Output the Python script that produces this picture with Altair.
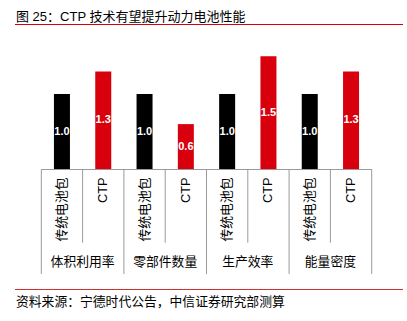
import altair as alt
import pandas as pd

groups = ["体积利用率", "零部件数量", "生产效率", "能量密度"]
series = ["传统电池包", "CTP"]
traditional = [1.0, 1.0, 1.0, 1.0]
ctp = [1.3, 0.6, 1.5, 1.3]
title_text = "图 25：CTP 技术有望提升动力电池性能"
source_text = "资料来源：宁德时代公告，中信证券研究部测算"

rows = []
for g, t, c in zip(groups, traditional, ctp):
    rows.append({"slot": g + "|" + series[0], "group": g, "series": series[0], "value": t, "first": True})
    rows.append({"slot": g + "|" + series[1], "group": g, "series": series[1], "value": c, "first": False})
df = pd.DataFrame(rows)
slots = list(df["slot"])

FONT = "Liberation Sans, Noto Sans CJK SC"
GRID = "#9a9a9a"

xscale = alt.Scale(domain=slots, range=[41.3, 371.7], paddingInner=0, paddingOuter=0)
yscale = alt.Scale(domain=[0, 2.248], range=[169.3, 0], nice=False, zero=True)

X = lambda bp: alt.X("slot:N", scale=xscale, axis=None, sort=slots, bandPosition=bp)

base = alt.Chart(df)

bars = base.mark_bar(width=16).encode(
    x=alt.X("slot:N", scale=xscale, axis=None, sort=slots),
    y=alt.Y("value:Q", scale=yscale, axis=None),
    color=alt.Color("series:N", scale=alt.Scale(domain=series, range=["#000000", "#d9000e"]), legend=None),
)

vlabels = base.transform_calculate(mid="datum.value / 2").mark_text(
    color="white", font="Liberation Sans", fontSize=11, fontWeight="bold", baseline="middle"
).encode(
    x=alt.X("slot:N", scale=xscale, axis=None, sort=slots),
    y=alt.Y("mid:Q", scale=yscale, axis=None),
    text=alt.Text("value:Q", format=".1f"),
)

axis_line = base.transform_filter("datum.first").mark_rule(color=GRID, strokeWidth=1).encode(
    x=X(0), x2=alt.value(371.7), y=alt.value(169.5)
)

short_ticks = base.transform_filter("!datum.first").mark_rule(color=GRID, strokeWidth=1).encode(
    x=X(0), y=alt.value(169.3), y2=alt.value(242.7)
)
long_ticks = base.transform_filter("datum.first").mark_rule(color=GRID, strokeWidth=1).encode(
    x=X(0), y=alt.value(169.3), y2=alt.value(274)
)
last_tick = base.transform_filter(alt.datum.slot == slots[-1]).mark_rule(color=GRID, strokeWidth=1).encode(
    x=X(1), y=alt.value(169.3), y2=alt.value(274)
)

cat_labels = base.mark_text(
    font=FONT, fontSize=12.8, angle=270, align="right", baseline="middle", color="#000000"
).encode(
    x=alt.X("slot:N", scale=xscale, axis=None, sort=slots),
    y=alt.value(177.5),
    text="series:N",
)

grp_labels = base.transform_filter("datum.first").mark_text(
    font=FONT, fontSize=12.8, align="center", baseline="middle", color="#000000"
).encode(
    x=X(1),
    y=alt.value(262),
    text="group:N",
)

title = alt.Chart(pd.DataFrame({"t": [title_text]})).mark_text(
    font=FONT, fontSize=13, align="left", baseline="alphabetic", color="#000000"
).encode(x=alt.value(16), y=alt.value(21), text="t:N")

source = alt.Chart(pd.DataFrame({"t": [source_text]})).mark_text(
    font=FONT, fontSize=12.8, align="left", baseline="middle", color="#000000"
).encode(x=alt.value(16), y=alt.value(302), text="t:N")

red_top = alt.Chart(pd.DataFrame({"a": [0]})).mark_rule(color="#d9000e", strokeWidth=1).encode(
    x=alt.value(15), x2=alt.value(403), y=alt.value(24.5)
)
red_bot = alt.Chart(pd.DataFrame({"a": [0]})).mark_rule(color="#d03030", strokeWidth=1).encode(
    x=alt.value(15), x2=alt.value(403), y=alt.value(289.5)
)

chart = alt.layer(
    bars, vlabels, axis_line, short_ticks, long_ticks, last_tick,
    cat_labels, grp_labels, title, source, red_top, red_bot
).properties(
    width=407, height=321, padding=0, autosize=alt.AutoSizeParams(type="none"), background="white"
).configure_view(stroke=None)

chart.save("out.html", embed_options={"renderer": "svg", "actions": False})
